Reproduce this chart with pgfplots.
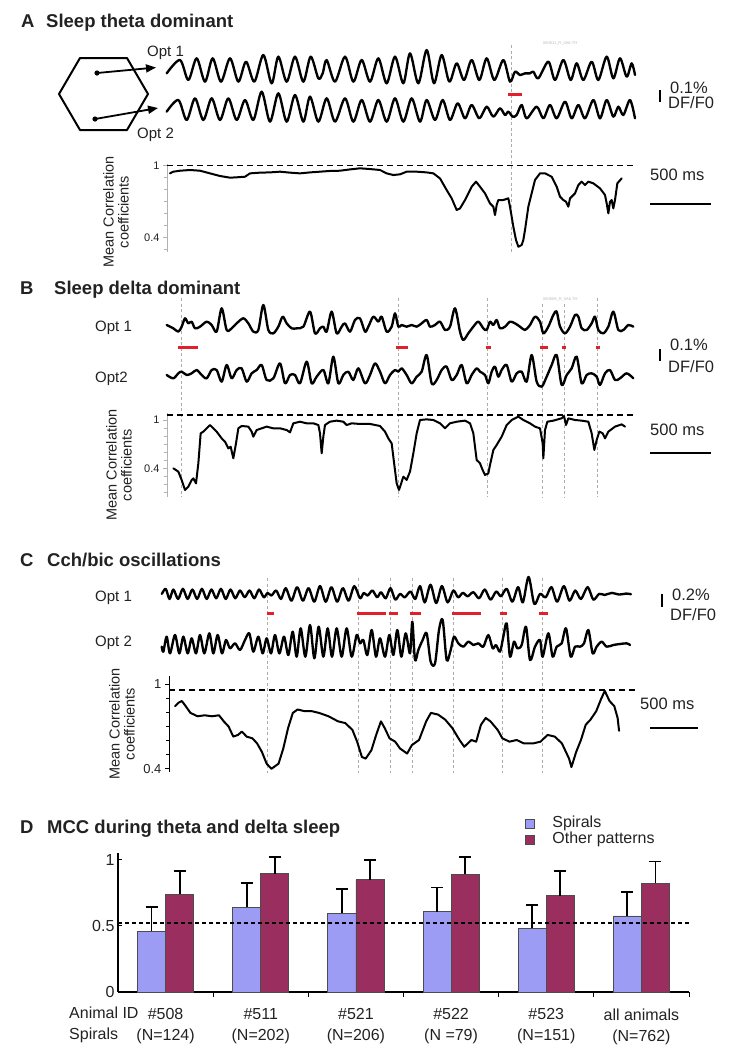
\documentclass[border=0pt]{standalone}
\usepackage{pgfplots}
\pgfplotsset{compat=1.18}
\usepackage{fontspec}
\setmainfont{Liberation Sans}
\usetikzlibrary{arrows.meta}
\definecolor{spiralc}{HTML}{9C9CF4}
\definecolor{otherc}{HTML}{9A2F5F}
\definecolor{redm}{HTML}{E0202A}
\definecolor{txt}{HTML}{222222}
\pgfplotsset{
  /pgf/number format/assume math mode=true,
  tr/.style={black, line width=2.35pt, smooth, tension=0.5, mark=none, line join=round, line cap=round},
  cr/.style={black, line width=2pt, sharp plot, mark=none, line join=round, line cap=round},
  vd/.style={gray!65, line width=0.9pt, dash pattern=on 3pt off 2.5pt, mark=none},
  hd/.style={black, line width=1.6pt, dash pattern=on 6pt off 4pt, mark=none},
  rm/.style={redm, line width=3pt, mark=none},
  sb/.style={black, line width=2.6pt, mark=none},
  base/.style={scale only axis, anchor=north west, clip=false},
  tracebox/.style={base, hide axis, xmin=0, xmax=1440, y dir=reverse},
  corrbox/.style={base, axis x line=none, xtick=\empty, axis y line=left,
     axis line style={-}, ytick={0.4,1}, tick align=outside,
     major tick length=4pt, minor tick length=3pt,
     yticklabel style={text=txt}},
}
\tikzset{tx/.style={inner sep=0pt, text=txt}}
\newcommand\tfont{\fontsize{18.5}{20}\selectfont\bfseries}
\newcommand\lfont{\fontsize{15}{15}\selectfont}
\newcommand\sfont{\fontsize{16.5}{19}\selectfont}
\newcommand\dfont{\fontsize{16}{21}\selectfont}
\begin{document}
\begin{tikzpicture}
\path[use as bounding box] (0pt,0pt) rectangle (746pt,-1048pt);
% ---------------- overlay in picture pixels ----------------
\begin{axis}[base, hide axis, at={(0pt,0pt)}, width=746pt, height=1048pt,
  xmin=0, xmax=746, ymin=0, ymax=1048, y dir=reverse]
% titles
\node[tx, anchor=base west, font=\tfont] at (21,27) {A};
\node[tx, anchor=base west, font=\tfont] at (46,27) {Sleep theta dominant};
\node[tx, anchor=base west, font=\tfont] at (20,294.5) {B};
\node[tx, anchor=base west, font=\tfont] at (54,294.5) {Sleep delta dominant};
\node[tx, anchor=base west, font=\tfont] at (20,566.5) {C};
\node[tx, anchor=base west, font=\tfont] at (47,566.5) {Cch/bic oscillations};
\node[tx, anchor=base west, font=\tfont] at (20,833.5) {D};
\node[tx, anchor=base west, font=\tfont] at (47,833.5) {MCC during theta and delta sleep};
% hexagon schematic
\draw[line width=2pt, line join=round] (59,94) -- (80,58) -- (127,58) -- (148,94) -- (127,130) -- (80,130) -- cycle;
\fill (97,73) circle[radius=2.6pt];
\fill (95,119) circle[radius=2.6pt];
\draw[line width=1.8pt, -{Triangle[length=10pt,width=8pt]}] (97,73) -- (156,67.5);
\draw[line width=1.8pt, -{Triangle[length=10pt,width=8pt]}] (95,119) -- (158,108);
% trace labels
\node[tx, anchor=base west, font=\lfont] at (147,56) {Opt 1};
\node[tx, anchor=base west, font=\lfont] at (137,138) {Opt 2};
\node[tx, anchor=base west, font=\lfont] at (95,331.5) {Opt 1};
\node[tx, anchor=base west, font=\lfont] at (95,382.5) {Opt2};
\node[tx, anchor=base west, font=\lfont] at (95,601.5) {Opt 1};
\node[tx, anchor=base west, font=\lfont] at (95,646.5) {Opt 2};
% correlation y labels
\node[tx, rotate=90, font=\fontsize{14.5}{15}\selectfont, align=center] at (116,212) {Mean Correlation\\coefficients};
\node[tx, rotate=90, font=\fontsize{14.5}{15}\selectfont, align=center] at (119,465) {Mean Correlation\\coefficients};
\node[tx, rotate=90, font=\fontsize{14.5}{15}\selectfont, align=center] at (122,724) {Mean Correlation\\coefficients};
% tiny file names
\node[tx, anchor=west, font=\fontsize{4}{4}\selectfont, text=gray!55] at (543,43) {080611\_R\_0A8.TH};
\node[tx, anchor=west, font=\fontsize{4}{4}\selectfont, text=gray!55] at (543,299) {080609\_R\_0A6.TH};
% vertical dashed event lines
\addplot[vd] coordinates {(511,45) (511,252)};
\addplot[vd] coordinates {(181,298) (181,497)};
\addplot[vd] coordinates {(398,298) (398,497)};
\addplot[vd] coordinates {(487,298) (487,497)};
\addplot[vd] coordinates {(542,304) (542,497)};
\addplot[vd] coordinates {(564,304) (564,497)};
\addplot[vd] coordinates {(597,298) (597,497)};
\addplot[vd] coordinates {(267,578) (267,773)};
\addplot[vd] coordinates {(358,578) (358,773)};
\addplot[vd] coordinates {(390,578) (390,773)};
\addplot[vd] coordinates {(412,578) (412,773)};
\addplot[vd] coordinates {(453,578) (453,773)};
\addplot[vd] coordinates {(502,578) (502,773)};
\addplot[vd] coordinates {(542,578) (542,773)};
% red marks
\addplot[rm] coordinates {(508,94) (522,94)};
\addplot[rm] coordinates {(178,347) (198,347)};
\addplot[rm] coordinates {(396,347) (408,347)};
\addplot[rm] coordinates {(486,347) (491,347)};
\addplot[rm] coordinates {(540,347) (548,347)};
\addplot[rm] coordinates {(562,347) (566,347)};
\addplot[rm] coordinates {(596,347) (600,347)};
\addplot[rm] coordinates {(267,613) (274,613)};
\addplot[rm] coordinates {(357,613) (386,613)};
\addplot[rm] coordinates {(389,613) (398,613)};
\addplot[rm] coordinates {(410,613) (421,613)};
\addplot[rm] coordinates {(452,613) (481,613)};
\addplot[rm] coordinates {(500,613) (507,613)};
\addplot[rm] coordinates {(539,613) (548,613)};
% scale bars
\addplot[sb] coordinates {(660,90) (660,102)};
\node[tx, anchor=base west, font=\sfont] at (670,93) {0.1\%};
\node[tx, anchor=base west, font=\sfont] at (668,108.5) {DF/F0};
\node[tx, anchor=base west, font=\sfont] at (650,180) {500 ms};
\addplot[sb] coordinates {(650,204) (711,204)};
\addplot[sb] coordinates {(660,349) (660,361)};
\node[tx, anchor=base west, font=\sfont] at (670,350) {0.1\%};
\node[tx, anchor=base west, font=\sfont] at (668,372) {DF/F0};
\node[tx, anchor=base west, font=\sfont] at (650,435) {500 ms};
\addplot[sb] coordinates {(650,453) (711,453)};
\addplot[sb] coordinates {(662,594) (662,607)};
\node[tx, anchor=base west, font=\sfont] at (672,600) {0.2\%};
\node[tx, anchor=base west, font=\sfont] at (670,620) {DF/F0};
\node[tx, anchor=base west, font=\sfont] at (640,709) {500 ms};
\addplot[sb] coordinates {(650,728) (698,728)};
% panel D row captions
\node[tx, anchor=base west, font=\dfont] at (69,1018) {Animal ID};
\node[tx, anchor=base west, font=\dfont] at (69,1039) {Spirals};
\end{axis}
% ---------------- A traces ----------------
\begin{axis}[tracebox, at={(160pt,-40pt)}, width=480pt, height=95pt, ymin=0, ymax=285]
\addplot[tr] coordinates {(20,100) (60,60) (85,120) (110,55) (135,125) (158,55) (183,125) (210,55) (235,125) (258,65) (283,125) (310,45) (335,130) (355,50) (380,125) (405,50) (430,125) (452,50) (475,115) (488,100) (500,60) (525,125) (555,50) (580,125) (605,60) (630,125) (655,55) (680,130) (705,50) (730,130) (750,40) (775,130) (800,30) (822,130) (845,45) (868,125) (890,70) (912,120) (935,60) (958,120) (980,55) (1003,120) (1030,60) (1050,125) (1065,95) (1080,105) (1095,100) (1110,100) (1120,95) (1135,115) (1165,65) (1185,120) (1210,60) (1232,120) (1250,70) (1270,120) (1295,65) (1315,120) (1340,50) (1360,115) (1380,55) (1400,110) (1415,70) (1425,105)};
\addplot[tr] coordinates {(20,215) (55,180) (80,240) (105,175) (130,240) (155,175) (180,240) (205,175) (230,240) (255,180) (280,240) (305,155) (330,245) (355,160) (380,245) (405,165) (430,245) (450,170) (475,245) (500,175) (525,245) (555,175) (580,245) (605,180) (630,245) (655,180) (680,245) (705,175) (730,245) (755,175) (780,245) (800,180) (825,240) (848,180) (870,240) (893,190) (915,235) (935,195) (958,235) (980,200) (1000,230) (1020,205) (1035,225) (1045,215) (1058,230) (1070,225) (1085,195) (1100,235) (1130,200) (1150,235) (1170,195) (1190,235) (1215,185) (1235,235) (1255,195) (1275,235) (1300,180) (1320,235) (1340,180) (1360,230) (1375,200) (1390,225) (1410,180) (1425,235)};
\end{axis}
% ---------------- A correlation ----------------
\begin{axis}[corrbox, at={(167pt,-164pt)}, width=473pt, height=88pt,
  xmin=21, xmax=1440, ymin=0.281, ymax=1.014,
  minor ytick={0.3,0.5,0.6,0.7,0.8,0.9},
  y axis line style={gray!60, line width=0.8pt}, ytick style={gray!60, line width=0.6pt},
  yticklabel style={font=\fontsize{11}{11}\selectfont}]
\addplot[hd] coordinates {(21,1) (1420,1)};
\addplot[cr] coordinates {(30,0.936) (40,0.950) (60,0.958) (90,0.964) (120,0.958) (150,0.936) (180,0.914) (210,0.900) (230,0.903) (255,0.908) (270,0.936) (300,0.942) (330,0.944) (360,0.950) (390,0.942) (420,0.936) (450,0.944) (480,0.950) (510,0.956) (540,0.958) (570,0.969) (600,0.978) (630,0.972) (660,0.964) (680,0.936) (700,0.922) (720,0.928) (740,0.950) (770,0.950) (800,0.944) (820,0.936) (840,0.894) (860,0.797) (875,0.728) (890,0.631) (900,0.644) (915,0.714) (935,0.825) (948,0.867) (960,0.825) (975,0.769) (990,0.686) (1000,0.658) (1005,0.589) (1010,0.672) (1015,0.714) (1030,0.714) (1045,0.728) (1050,0.658) (1060,0.492) (1068,0.381) (1075,0.325) (1085,0.339) (1090,0.381) (1095,0.464) (1105,0.658) (1115,0.769) (1125,0.881) (1140,0.936) (1155,0.936) (1175,0.908) (1190,0.825) (1200,0.742) (1210,0.714) (1218,0.700) (1225,0.658) (1230,0.728) (1245,0.769) (1255,0.839) (1265,0.867) (1275,0.839) (1285,0.867) (1300,0.853) (1320,0.811) (1335,0.756) (1340,0.686) (1345,0.603) (1350,0.700) (1355,0.714) (1360,0.644) (1365,0.714) (1372,0.853) (1385,0.894)};
\end{axis}
% ---------------- B traces ----------------
\begin{axis}[tracebox, at={(160pt,-290pt)}, width=480pt, height=110pt, ymin=0, ymax=330]
\addplot[tr] coordinates {(20,105) (40,115) (55,125) (65,110) (75,85) (85,100) (95,95) (105,115) (120,110) (140,95) (155,105) (170,125) (185,55) (200,120) (215,115) (230,100) (250,85) (265,100) (280,125) (295,120) (310,45) (325,120) (340,130) (355,110) (368,80) (380,100) (395,115) (410,115) (430,110) (450,65) (465,130) (480,115) (490,110) (500,125) (515,65) (530,130) (545,110) (555,100) (570,125) (585,90) (600,85) (615,125) (625,110) (640,80) (655,95) (665,80) (680,125) (695,110) (705,70) (715,110) (725,105) (740,110) (755,105) (770,110) (785,100) (800,90) (810,110) (825,105) (840,95) (855,120) (870,110) (885,55) (900,125) (910,150) (925,130) (940,110) (955,95) (970,115) (980,120) (990,95) (1000,105) (1010,90) (1020,115) (1035,110) (1050,95) (1065,100) (1080,110) (1095,120) (1110,105) (1125,80) (1140,95) (1150,130) (1165,110) (1180,75) (1190,65) (1200,110) (1215,130) (1230,110) (1245,75) (1255,80) (1265,115) (1280,120) (1295,100) (1305,80) (1315,120) (1330,130) (1345,110) (1360,65) (1375,120) (1390,120) (1405,105) (1420,110)};
\addplot[tr] coordinates {(20,255) (40,265) (55,250) (65,245) (80,255) (95,250) (110,240) (125,255) (140,265) (155,240) (170,240) (185,275) (200,225) (215,265) (230,240) (245,235) (260,275) (275,250) (290,240) (305,225) (320,270) (340,265) (360,220) (375,280) (390,255) (405,255) (420,280) (440,215) (455,280) (470,260) (490,240) (505,280) (520,200) (535,280) (550,255) (565,245) (580,270) (595,235) (615,280) (630,255) (645,220) (660,245) (675,280) (690,255) (705,240) (715,245) (725,235) (740,255) (755,280) (770,260) (785,245) (800,195) (815,280) (830,270) (845,240) (860,230) (875,270) (890,255) (905,225) (920,280) (935,255) (950,235) (960,245) (975,255) (985,280) (995,245) (1005,230) (1015,260) (1025,240) (1040,225) (1055,275) (1070,250) (1085,245) (1100,275) (1115,195) (1130,275) (1145,290) (1160,260) (1175,225) (1190,195) (1205,285) (1220,255) (1235,235) (1250,200) (1265,280) (1280,255) (1295,250) (1310,260) (1320,285) (1335,250) (1350,240) (1365,270) (1380,265) (1400,250) (1420,265)};
\end{axis}
% ---------------- B correlation ----------------
\begin{axis}[corrbox, at={(167pt,-413pt)}, width=473pt, height=84pt,
  xmin=21, xmax=1440, ymin=0.0474, ymax=1.0866,
  minor ytick={0.1,0.2,0.3,0.5,0.6,0.7,0.8,0.9},
  y axis line style={gray!60, line width=0.8pt}, ytick style={gray!60, line width=0.6pt},
  yticklabel style={font=\fontsize{11}{11}\selectfont}]
\addplot[hd] coordinates {(21,1.062) (1420,1.062)};
\addplot[cr] coordinates {(40,0.402) (55,0.361) (65,0.258) (75,0.134) (85,0.175) (95,0.258) (100,0.278) (108,0.216) (115,0.464) (122,0.835) (130,0.856) (140,0.897) (150,0.938) (160,0.897) (170,0.856) (185,0.773) (195,0.732) (205,0.649) (212,0.670) (220,0.526) (228,0.711) (235,0.897) (245,0.926) (265,0.918) (275,0.856) (280,0.794) (290,0.876) (305,0.897) (320,0.918) (340,0.897) (360,0.897) (380,0.876) (390,0.847) (400,0.959) (420,0.979) (440,0.959) (460,0.959) (475,0.938) (480,0.835) (485,0.588) (490,0.794) (495,0.938) (510,0.979) (530,0.992) (550,0.979) (560,0.938) (575,0.959) (600,0.951) (630,0.951) (660,0.926) (675,0.856) (685,0.773) (695,0.711) (703,0.443) (710,0.216) (717,0.134) (722,0.196) (730,0.299) (740,0.258) (750,0.361) (760,0.588) (770,0.835) (780,1.0) (800,1.008) (820,1.0) (840,0.959) (855,0.897) (870,0.959) (890,0.979) (915,0.992) (930,0.959) (940,0.835) (950,0.505) (960,0.464) (968,0.381) (975,0.320) (985,0.340) (990,0.443) (1000,0.629) (1010,0.691) (1025,0.794) (1040,0.938) (1055,1.0) (1075,1.041) (1090,1.0) (1110,0.959) (1125,0.918) (1140,0.897) (1148,0.711) (1150,0.526) (1155,0.876) (1162,0.979) (1180,0.992) (1205,1.021) (1212,1.049) (1218,0.938) (1225,1.021) (1245,1.0) (1265,0.992) (1285,0.979) (1295,0.835) (1303,0.629) (1310,0.753) (1318,0.856) (1328,0.835) (1335,0.773) (1345,0.856) (1365,0.918) (1385,0.946) (1395,0.918)};
\end{axis}
% ---------------- C traces ----------------
\begin{axis}[base, hide axis, y dir=reverse, at={(160pt,-575.25pt)}, width=480pt, height=40.68pt, xmin=336, xmax=1344, ymin=340, ymax=460]
\addplot[tr] coordinates {(340,395) (348,380) (356,410) (364,382) (374,410) (384,380) (394,410) (404,382) (414,410) (424,380) (434,410) (444,382) (454,408) (464,380) (474,410) (484,382) (494,408) (504,385) (514,405) (524,385) (534,408) (544,382) (554,405) (562,392) (570,400) (580,385) (590,410) (600,378) (612,415) (624,375) (636,415) (648,378) (660,418) (672,372) (684,418) (696,375) (708,418) (720,378) (732,415) (744,372) (756,408) (764,392) (772,400) (782,385) (792,405) (800,390) (810,408) (820,378) (830,412) (840,395) (850,405) (862,388) (872,410) (882,372) (892,420) (904,368) (916,422) (928,372) (940,420) (952,385) (962,405) (972,392) (982,402) (994,390) (1006,408) (1018,382) (1030,412) (1042,388) (1052,402) (1064,380) (1076,418) (1088,375) (1098,420) (1110,345) (1122,425) (1134,395) (1146,405) (1158,375) (1170,418) (1184,372) (1196,415) (1208,385) (1220,410) (1234,375) (1246,412) (1258,395) (1270,398) (1285,392) (1300,397) (1315,394) (1325,396)};
\end{axis}
\begin{axis}[tracebox, at={(160pt,-620pt)}, width=480pt, height=100pt, ymin=0, ymax=300]
\addplot[tr] coordinates {(5,80) (10,95) (20,50) (30,100) (45,45) (58,100) (70,50) (83,100) (95,55) (108,100) (120,45) (133,100) (148,40) (160,100) (173,45) (186,100) (198,60) (210,85) (225,70) (240,90) (255,60) (268,40) (280,95) (295,50) (308,100) (320,55) (333,100) (345,45) (358,100) (372,50) (385,105) (398,35) (410,110) (422,25) (436,110) (450,15) (463,115) (476,20) (490,110) (503,25) (516,110) (530,25) (545,110) (560,25) (575,110) (590,45) (600,70) (610,60) (622,105) (635,30) (648,110) (660,55) (675,110) (688,45) (700,105) (712,30) (724,110) (737,40) (750,100) (757,5) (765,120) (775,90) (788,60) (800,40) (812,125) (825,130) (837,30) (848,0) (860,120) (872,90) (882,50) (895,70) (910,80) (925,65) (940,75) (955,70) (970,80) (985,45) (998,85) (1008,75) (1020,95) (1030,50) (1040,10) (1050,110) (1062,65) (1072,85) (1085,75) (1098,20) (1110,120) (1125,80) (1140,60) (1148,110) (1165,40) (1178,110) (1190,80) (1205,70) (1218,25) (1232,110) (1245,80) (1260,80) (1272,70) (1285,30) (1298,100) (1310,80) (1325,65) (1340,80) (1360,75) (1380,72) (1400,70) (1410,75)};
\end{axis}
% ---------------- C correlation ----------------
\begin{axis}[corrbox, at={(169pt,-675.6pt)}, width=471pt, height=96pt,
  xmin=355, xmax=1344, ymin=0.380, ymax=1.0602,
  minor ytick={0.5,0.6,0.7,0.8,0.9},
  y axis line style={black, line width=0.9pt}, ytick style={black, line width=0.7pt},
  yticklabel style={font=\fontsize{13}{13}\selectfont}]
\addplot[hd] coordinates {(355,0.957) (1340,0.957)};
\addplot[cr] coordinates {(368,0.844) (375,0.868) (382,0.880) (390,0.844) (400,0.796) (415,0.772) (430,0.779) (445,0.772) (460,0.779) (470,0.736) (480,0.700) (490,0.628) (500,0.640) (508,0.664) (518,0.628) (530,0.616) (540,0.580) (550,0.520) (560,0.436) (570,0.400) (575,0.412) (585,0.436) (595,0.544) (605,0.688) (615,0.796) (625,0.820) (640,0.808) (655,0.808) (670,0.796) (690,0.772) (710,0.736) (725,0.724) (740,0.676) (750,0.592) (760,0.484) (768,0.472) (780,0.532) (790,0.640) (800,0.736) (808,0.688) (818,0.616) (830,0.592) (840,0.544) (855,0.508) (865,0.568) (880,0.604) (895,0.736) (905,0.796) (920,0.784) (935,0.748) (950,0.688) (965,0.604) (975,0.556) (990,0.604) (1000,0.592) (1010,0.712) (1020,0.760) (1030,0.736) (1045,0.676) (1055,0.616) (1070,0.592) (1085,0.604) (1100,0.580) (1120,0.580) (1135,0.592) (1150,0.640) (1165,0.628) (1180,0.580) (1195,0.472) (1200,0.412) (1210,0.520) (1220,0.604) (1230,0.712) (1240,0.748) (1252,0.808) (1262,0.892) (1270,0.952) (1280,0.880) (1290,0.844) (1297,0.760) (1300,0.669)};
\end{axis}
% ---------------- D bar chart ----------------
\begin{axis}[base, at={(118pt,-853pt)}, width=571pt, height=139pt,
  ybar, bar width=0.295,
  xmin=-0.5, xmax=5.5, ymin=0, ymax=1.052,
  axis x line=bottom, axis y line=left, axis line style={-, black, line width=1.3pt},
  ytick={0,0.5,1}, tick align=inside, major tick length=4pt,
  ytick style={black, line width=1pt},
  yticklabel style={font=\dfont, text=txt},
  xtick={0,1,2,3,4,5},
  xticklabels={{\#508\\(N=124)},{\#511\\(N=202)},{\#521\\(N=206)},{\#522\\(N =79)},{\#523\\(N=151)},{all animals\\(N=762)}},
  xticklabel style={font=\dfont, text=txt, align=center, yshift=-13pt},
  xtick style={draw=none},
  extra x ticks={0.5,1.5,2.5,3.5,4.5,5.5}, extra x tick labels={},
  extra x tick style={xtick style={draw=black, line width=1pt}, tick align=outside, major tick length=5pt},
  legend style={at={(rel axis cs:0.712,1.27)}, anchor=north west, draw=none, fill=none,
     font=\dfont, text=txt, inner sep=0pt, row sep=0pt,
     nodes={inner sep=1pt, text height=11pt, text depth=3pt},
     /tikz/every odd column/.append style={column sep=17pt}},
  legend cell align=left]
\addlegendimage{legend image code/.code={\draw[fill=spiralc, draw=black!70, line width=0.6pt] (0pt,-4.5pt) rectangle (9pt,4.5pt);}}
\addlegendentry{Spirals}
\addlegendimage{legend image code/.code={\draw[fill=otherc, draw=black!70, line width=0.6pt] (0pt,-4.5pt) rectangle (9pt,4.5pt);}}
\addlegendentry{Other patterns}
\addplot[bar shift=-0.1475, fill=spiralc, draw=black!70, line width=0.7pt,
  error bars/.cd, y dir=plus, y explicit,
  error bar style={black, line width=1.8pt}, error mark options={black, line width=1.8pt, mark size=6pt, rotate=90}]
  coordinates {(0,0.458) +- (0,0.183) (1,0.641) +- (0,0.184) (2,0.597) +- (0,0.183) (3,0.607) +- (0,0.184) (4,0.484) +- (0,0.176) (5,0.576) +- (0,0.183)};
\addplot[bar shift=0.1475, fill=otherc, draw=black!70, line width=0.7pt,
  error bars/.cd, y dir=plus, y explicit,
  error bar style={black, line width=1.8pt}, error mark options={black, line width=1.8pt, mark size=6pt, rotate=90}]
  coordinates {(0,0.738) +- (0,0.178) (1,0.895) +- (0,0.126) (2,0.851) +- (0,0.149) (3,0.890) +- (0,0.131) (4,0.728) +- (0,0.188) (5,0.825) +- (0,0.162)};
\addplot[sharp plot, black, line width=1.5pt, dash pattern=on 4pt off 3pt, mark=none] coordinates {(-0.5,0.524) (5.5,0.524)};
\end{axis}
\end{tikzpicture}
\end{document}
